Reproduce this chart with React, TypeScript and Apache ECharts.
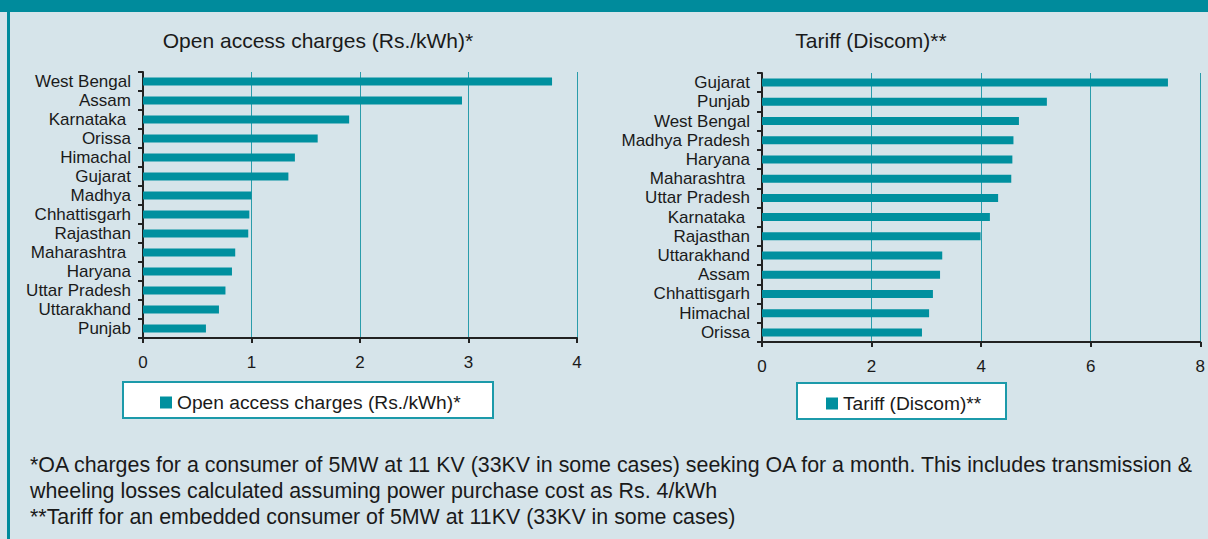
import React, { useEffect, useRef } from "react";
import * as echarts from "echarts";

const oaStates = [
  "West Bengal", "Assam", "Karnataka\u00a0", "Orissa", "Himachal", "Gujarat", "Madhya",
  "Chhattisgarh", "Rajasthan", "Maharashtra\u00a0", "Haryana", "Uttar Pradesh", "Uttarakhand", "Punjab",
];
const oaValues = [3.77, 2.94, 1.9, 1.61, 1.4, 1.34, 1.0, 0.98, 0.97, 0.85, 0.82, 0.76, 0.7, 0.58];

const tariffStates = [
  "Gujarat", "Punjab", "West Bengal", "Madhya Pradesh", "Haryana", "Maharashtra\u00a0", "Uttar Pradesh",
  "Karnataka\u00a0", "Rajasthan", "Uttarakhand", "Assam", "Chhattisgarh", "Himachal", "Orissa",
];
const tariffValues = [7.41, 5.2, 4.69, 4.59, 4.57, 4.55, 4.31, 4.16, 3.99, 3.29, 3.25, 3.12, 3.05, 2.92];

const oaTitle = "Open access charges (Rs./kWh)*";
const tariffTitle = "Tariff (Discom)**";
const footnotes = [
  "*OA charges for a consumer of 5MW at 11 KV (33KV in some cases) seeking OA for a month. This includes transmission &",
  "wheeling losses calculated assuming power purchase cost as Rs. 4/kWh",
  "**Tariff for an embedded consumer of 5MW at 11KV (33KV in some cases)",
];

const TEAL = "#00909f";
const BG = "#d6e4ea";
const FONT = "Liberation Sans, Arial, sans-serif";
const TEXT = "#1a1a1a";

export default function App() {
  const ref = useRef<HTMLDivElement>(null);
  useEffect(() => {
    document.body.style.margin = "0";
    const chart = echarts.init(ref.current!, undefined, { renderer: "svg" });
    const yAxisCommon = (data: string[], gridIndex: number) => ({
      type: "category" as const,
      gridIndex,
      data,
      inverse: true,
      axisLine: { show: true, lineStyle: { color: "#222", width: 2 } },
      axisTick: { show: true, length: 5, interval: 0, lineStyle: { color: "#222", width: 2 } },
      axisLabel: { color: TEXT, fontSize: 17, fontFamily: FONT, margin: 12, interval: 0 },
      splitLine: { show: false },
    });
    const xAxisCommon = (gridIndex: number, max: number, interval: number) => ({
      type: "value" as const,
      gridIndex,
      min: 0,
      max,
      interval,
      axisLine: { show: true, lineStyle: { color: "#222", width: 2 } },
      axisTick: { show: true, length: 5, lineStyle: { color: "#222", width: 2 } },
      axisLabel: { color: TEXT, fontSize: 17, fontFamily: FONT, margin: 16 },
      splitLine: { show: true, lineStyle: { color: "#2a9cab", width: 1 } },
    });
    chart.setOption({
      animation: false,
      backgroundColor: BG,
      textStyle: { fontFamily: FONT },
      grid: [
        { left: 143, top: 72, width: 434, height: 266 },
        { left: 762, top: 73, width: 439, height: 269 },
      ],
      xAxis: [xAxisCommon(0, 4, 1), xAxisCommon(1, 8, 2)],
      yAxis: [yAxisCommon(oaStates, 0), yAxisCommon(tariffStates, 1)],
      legend: [
        {
          data: [oaTitle],
          left: 155,
          top: 388,
          itemWidth: 12,
          itemHeight: 12,
          itemGap: 4,
          icon: "rect",
          textStyle: { color: TEXT, fontSize: 19.2, fontFamily: FONT },
        },
        {
          data: [tariffTitle],
          left: 821,
          top: 389,
          itemWidth: 12,
          itemHeight: 12,
          icon: "rect",
          textStyle: { color: TEXT, fontSize: 19.2, fontFamily: FONT },
        },
      ],
      series: [
        {
          name: oaTitle,
          type: "bar",
          xAxisIndex: 0,
          yAxisIndex: 0,
          data: oaValues,
          barWidth: 8,
          itemStyle: { color: TEAL },
        },
        {
          name: tariffTitle,
          type: "bar",
          xAxisIndex: 1,
          yAxisIndex: 1,
          data: tariffValues,
          barWidth: 8,
          itemStyle: { color: TEAL },
        },
      ],
      graphic: [
        { type: "rect", z: -10, shape: { x: 0, y: 0, width: 1208, height: 12 }, style: { fill: "#008b9c" } },
        { type: "rect", z: -10, shape: { x: 7, y: 12, width: 3, height: 527 }, style: { fill: "#008b9c" } },
        {
          type: "rect", z: -10,
          shape: { x: 123, y: 382, width: 370, height: 36 },
          style: { fill: "#ffffff", stroke: "#1c9aaa", lineWidth: 2 },
        },
        {
          type: "rect", z: -10,
          shape: { x: 797, y: 383, width: 209, height: 36 },
          style: { fill: "#ffffff", stroke: "#1c9aaa", lineWidth: 2 },
        },
        {
          type: "text", x: 318, y: 40,
          style: { text: oaTitle, fill: TEXT, font: `21px ${FONT}`, textAlign: "center", textVerticalAlign: "middle" },
        },
        {
          type: "text", x: 871, y: 40,
          style: { text: tariffTitle, fill: TEXT, font: `21px ${FONT}`, textAlign: "center", textVerticalAlign: "middle" },
        },
        ...footnotes.map((t, i) => ({
          type: "text",
          x: 30,
          y: [465, 491, 517][i],
          style: { text: t, fill: TEXT, font: `21.4px ${FONT}`, textAlign: "left", textVerticalAlign: "middle" },
        })),
      ],
    });
    return () => chart.dispose();
  }, []);
  return <div ref={ref} style={{ width: 1208, height: 539 }} />;
}
